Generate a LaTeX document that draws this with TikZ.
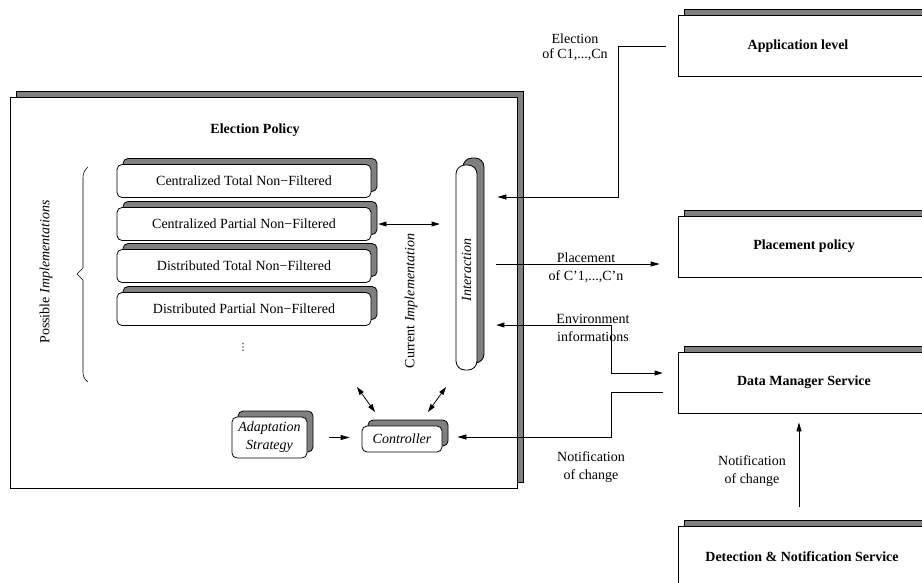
\documentclass[tikz,border=0pt]{standalone}
\usepackage{fontspec}
\setmainfont{Liberation Serif}
\newfontfamily\dvfont{DejaVu Sans}
\usetikzlibrary{arrows.meta,shadows}
\definecolor{shgray}{RGB}{128,128,128}
\newcommand\myfs{\fontsize{14}{18}\selectfont}
\begin{document}
\begin{tikzpicture}[x=1pt,y=-1pt,
  font=\myfs,
  line width=0.8pt,
  box/.style={draw, fill=white, inner sep=0pt, line width=0.8pt},
  sh/.style={copy shadow={shadow xshift=#1, shadow yshift=#1, fill=shgray, draw=black, line width=0.8pt}},
  sh/.default=6pt,
  rbox/.style={box, rounded corners=5pt},
  impl/.style={rbox, sh, minimum width=254pt, minimum height=33pt},
  rightbox/.style={box, sh, minimum width=252pt, minimum height=61pt, font=\myfs\bfseries},
  arr/.style={-{Triangle[length=9pt,width=5pt]}},
  arrb/.style={{Triangle[length=8pt,width=5pt]}-{Triangle[length=8pt,width=5pt]}},
  lbl/.style={align=center, inner sep=0pt}]
\useasboundingbox (0,0) rectangle (922,582);
\clip (0,0) rectangle (922,582);

% main box
\node[box, sh, minimum width=507pt, minimum height=391pt] (policy) at (263.5,292.5) {};
\node[font=\myfs\bfseries] (title) at (255,130) {Election Policy};

% implementations
\node[impl] (i1) at (244,181) {Centralized Total Non−Filtered};
\node[impl] (i2) at (244,224) {Centralized Partial Non−Filtered};
\node[impl] (i3) at (244,266) {Distributed Total Non−Filtered};
\node[impl] (i4) at (244,309) {Distributed Partial Non−Filtered};
\node[font=\fontsize{10}{12}\dvfont] (dots) at (243,347) {⋮};

% brace
\draw[line width=0.6pt] (88,167) .. controls (84,170) and (83,174) .. (83,178) -- (83,268) -- (77,274) -- (83,280) -- (83,372) .. controls (83,376) and (84,379) .. (88,382);
\node[rotate=90] (poss) at (46,272) {Possible \textit{Implementations}};
\node[rotate=90] (cur) at (411,301) {Current \textit{Implementation}};

% interaction
\node[box, rounded corners=9pt, sh=7pt, minimum width=21pt, minimum height=205pt] (inter) at (466.5,267.5) {};
\node[rotate=90, font=\myfs\itshape] (intert) at (466.5,270) {Interaction};

% controller & adaptation
\node[rbox, sh, minimum width=80pt, minimum height=26pt, font=\myfs\itshape] (ctrl) at (402,439) {Controller};
\node[rbox, sh, minimum width=75pt, minimum height=41pt, align=center, font=\myfs\itshape] (adapt) at (269.5,437.5) {Adaptation\\Strategy};

% right boxes
\node[rightbox] (app) at (804,46) {\hspace*{-12pt}Application level};
\node[rightbox] (place) at (804,246.5) {Placement policy};
\node[rightbox] (dms) at (804,382.5) {Data Manager Service};
\node[rightbox] (dns) at (804,556.5) {\hspace*{-4pt}Detection \& Notification Service};

% coordinates
\coordinate (e1) at (618,197);
\coordinate (pY) at (600,264);
\coordinate (v1) at (611,325);
\coordinate (v2) at (611,373);
\coordinate (n1) at (611,392);
\coordinate (n2) at (611,437);
\coordinate (vx) at (799,450);
\coordinate (da1) at (357,387);
\coordinate (da2) at (375,412);
\coordinate (db1) at (446,387);
\coordinate (db2) at (428,412);

% connectors
\draw[arr, shorten <=12pt, shorten >=20pt] (app.west) -| (e1) -- (inter.east |- e1);
\draw[arr, shorten <=19pt, shorten >=18pt] (inter.east |- pY) -- (place.west |- pY);
\draw[arrb, shorten <=19pt, shorten >=15pt] (inter.east |- v1) -- (v1) -- (v2) -- (dms.west |- v2);
\draw[arr, shorten <=15pt, shorten >=15pt] (dms.west |- n1) -- (n1) -- (n2) -- (ctrl.east |- n2);
\draw[arr, shorten <=19pt, shorten >=9pt] (dns.north -| vx) -- (dms.south -| vx);
\draw[arrb, shorten <=7pt, shorten >=16pt] (i2.east) -- (inter.west |- i2.east);
\draw[arr, shorten <=22pt, shorten >=12pt] (adapt.east) -- (ctrl.west |- adapt.east);
\draw[arrb] (da1) -- (da2);
\draw[arrb] (db1) -- (db2);

% labels
\node[lbl, font=\fontsize{14}{15}\selectfont] (lelec) at (575,47) {Election\\of C1,...,Cn};
\node[lbl] (lplace) at (586,268) {Placement\\of C'1,...,C'n};
\node[lbl] (lenv) at (593,328) {Environment\\informations};
\node[lbl] (lnot1) at (591,467) {Notification\\of change};
\node[lbl] (lnot2) at (752,471) {Notification\\of change};
\end{tikzpicture}
\end{document}
